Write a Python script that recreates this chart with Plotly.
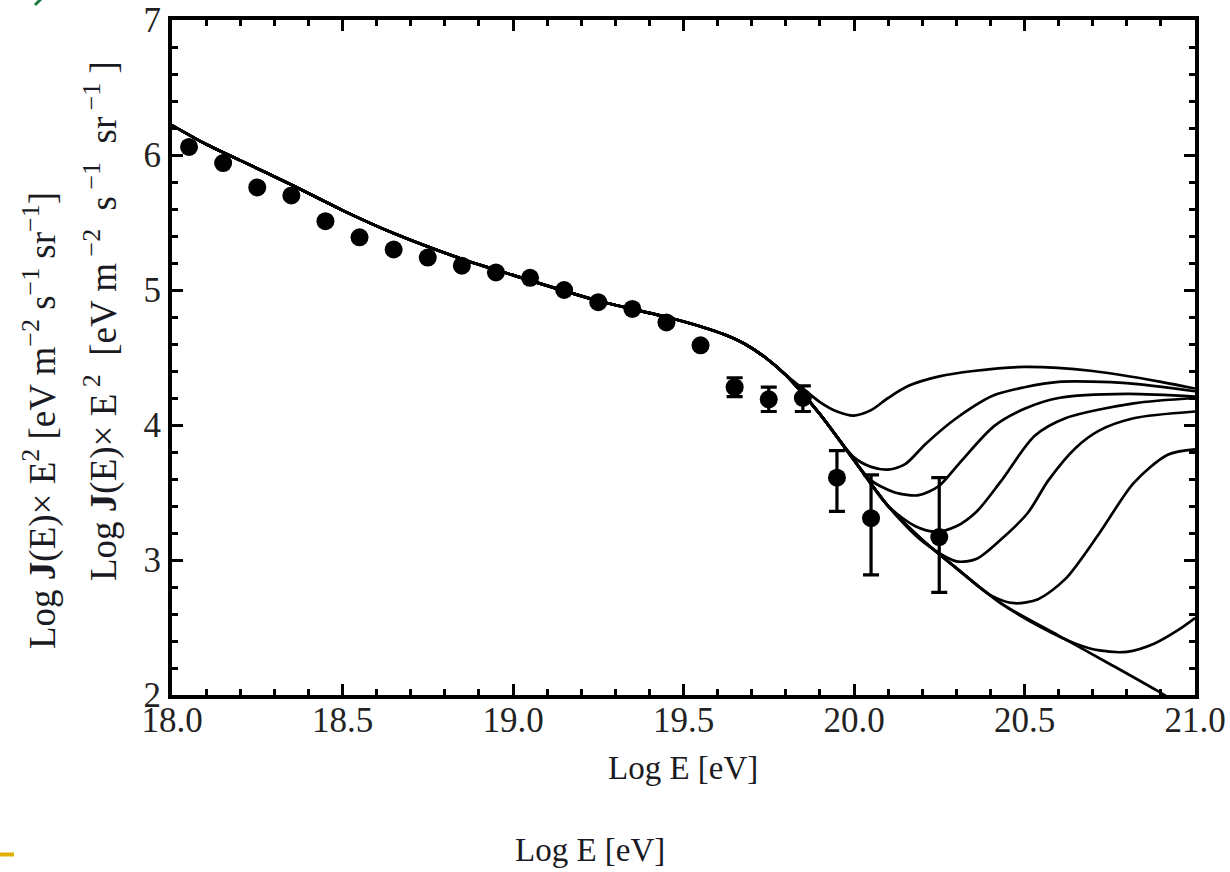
import plotly.graph_objects as go

# ---- data ----
obs_x = [18.05, 18.15, 18.25, 18.35, 18.45, 18.55, 18.65, 18.75, 18.85, 18.95,
         19.05, 19.15, 19.25, 19.35, 19.45, 19.55, 19.65, 19.75, 19.85, 19.95,
         20.05, 20.25]
obs_y = [6.06, 5.94, 5.76, 5.70, 5.51, 5.39, 5.30, 5.24, 5.18, 5.13,
         5.09, 5.00, 4.91, 4.86, 4.76, 4.59, 4.28, 4.19, 4.20, 3.61,
         3.31, 3.17]
err_up = [0, 0, 0, 0, 0, 0, 0, 0, 0, 0,
          0, 0, 0, 0, 0, 0, 0.07, 0.09, 0.09, 0.20,
          0.32, 0.44]
err_dn = [0, 0, 0, 0, 0, 0, 0, 0, 0, 0,
          0, 0, 0, 0, 0, 0, 0.07, 0.09, 0.10, 0.25,
          0.42, 0.41]

# common trunk of all model curves
trunk_x = [18.0, 18.1, 18.2, 18.35, 18.5, 18.65, 18.85, 19.0, 19.25, 19.45,
           19.55, 19.62, 19.68, 19.74, 19.8]
trunk_y = [6.22, 6.08, 5.96, 5.78, 5.59, 5.42, 5.23, 5.11, 4.92, 4.80,
           4.73, 4.67, 4.60, 4.50, 4.37]

# branches of each model curve after the trunk
a_x = [19.85, 19.9, 19.95, 20.0, 20.05, 20.1, 20.16, 20.25, 20.35, 20.5, 20.7, 20.9, 21.0]
a_y = [4.27, 4.17, 4.10, 4.07, 4.11, 4.20, 4.29, 4.36, 4.40, 4.43, 4.40, 4.32, 4.27]

b_x = [19.9, 20.0, 20.05, 20.1, 20.15, 20.21, 20.3, 20.41, 20.5, 20.6, 20.8, 21.0]
b_y = [4.08, 3.76, 3.69, 3.67, 3.71, 3.86, 4.05, 4.22, 4.28, 4.32, 4.31, 4.25]

c_x = [19.9, 20.0, 20.05, 20.12, 20.19, 20.25, 20.31, 20.41, 20.5, 20.6, 20.8, 21.0]
c_y = [4.08, 3.74, 3.59, 3.50, 3.48, 3.55, 3.72, 3.99, 4.12, 4.20, 4.23, 4.21]

d_x = [19.9, 20.0, 20.1, 20.18, 20.24, 20.3, 20.36, 20.43, 20.53, 20.62, 20.82, 21.0]
d_y = [4.08, 3.74, 3.40, 3.25, 3.21, 3.25, 3.36, 3.58, 3.92, 4.05, 4.16, 4.20]

e_x = [19.9, 20.0, 20.1, 20.2, 20.3, 20.36, 20.43, 20.51, 20.57, 20.65, 20.72, 20.82, 21.0]
e_y = [4.08, 3.74, 3.40, 3.14, 2.99, 3.01, 3.15, 3.35, 3.59, 3.83, 3.96, 4.05, 4.10]

f_x = [19.9, 20.0, 20.1, 20.2, 20.3, 20.4, 20.47, 20.54, 20.62, 20.72, 20.82, 20.92, 21.0]
f_y = [4.08, 3.74, 3.40, 3.15, 2.94, 2.74, 2.68, 2.71, 2.86, 3.20, 3.57, 3.78, 3.82]

g_x = [19.9, 20.0, 20.1, 20.2, 20.3, 20.43, 20.55, 20.65, 20.72, 20.8, 20.88, 20.95, 21.0]
g_y = [4.08, 3.74, 3.40, 3.15, 2.94, 2.68, 2.50, 2.38, 2.33, 2.32, 2.38, 2.48, 2.57]

h_x = [19.9, 20.0, 20.1, 20.2, 20.3, 20.43, 20.6, 20.75, 20.89, 21.0]
h_y = [4.08, 3.74, 3.40, 3.15, 2.94, 2.68, 2.44, 2.23, 2.03, 1.86]

branches = [(a_x, a_y), (b_x, b_y), (c_x, c_y), (d_x, d_y),
            (e_x, e_y), (f_x, f_y), (g_x, g_y), (h_x, h_y)]

x_ticks = [18.0, 18.5, 19.0, 19.5, 20.0, 20.5, 21.0]
x_tick_labels = ["18.0", "18.5", "19.0", "19.5", "20.0", "20.5", "21.0"]
y_ticks = [2, 3, 4, 5, 6, 7]
y_tick_labels = ["2", "3", "4", "5", "6", "7"]

# ---- figure ----
FONT = "Liberation Serif"
fig = go.Figure()

for bx, by in branches:
    fig.add_trace(go.Scatter(
        x=trunk_x + bx, y=trunk_y + by, mode="lines",
        line=dict(color="black", width=2.7, shape="spline", smoothing=0.8),
        showlegend=False, hoverinfo="skip"))

fig.add_trace(go.Scatter(
    x=obs_x, y=obs_y, mode="markers",
    marker=dict(color="black", size=18, symbol="circle"),
    error_y=dict(type="data", symmetric=False, array=err_up, arrayminus=err_dn,
                 color="black", thickness=3.2, width=8),
    showlegend=False))

axis_common = dict(
    showgrid=False, zeroline=False, showline=True, linecolor="black", linewidth=4,
    mirror="ticks", ticks="inside", tickcolor="black", tickwidth=3, automargin=False,
    ticklabeloverflow="allow",
    tickfont=dict(family=FONT, size=35, color="#222"),
)

fig.update_xaxes(range=[18.0, 21.0], tickvals=x_ticks, ticktext=x_tick_labels,
                 ticklen=11, ticklabelstandoff=-9,
                 minor=dict(dtick=0.1, ticks="inside", ticklen=6,
                            tickwidth=3, tickcolor="black"),
                 **axis_common)
fig.update_yaxes(range=[2.0, 7.0], tickvals=y_ticks, ticktext=y_tick_labels,
                 ticklen=11,
                 minor=dict(dtick=0.2, ticks="inside", ticklen=6,
                            tickwidth=3, tickcolor="black"),
                 **axis_common)

W, H = 1230, 872
L, R, T, B = 172, 35, 20, 177
pw, ph = W - L - R, H - T - B


def px(xs):
    return (xs - L) / pw


def py(ys):
    return (H - B - ys) / ph


NB = "\u00a0"
ytitle1 = "Log <b>J</b>(E)× E<sup>2</sup> [eV m<sup>−2</sup> s<sup>−1</sup> sr<sup>−1</sup>]"
ytitle2 = ("Log <b>J</b>(E)× E<sup>" + NB + "2</sup>" + NB + NB + "[eV m<sup>" + NB + "−2</sup>" + NB + NB +
           "s<sup>" + NB + "−1</sup>" + NB + NB + "sr<sup>" + NB + "−1</sup>" + NB + "]")
fig.add_annotation(text=ytitle1, xref="paper", yref="paper", x=px(40), y=py(421),
                   textangle=-90, showarrow=False, xanchor="center", yanchor="middle",
                   font=dict(family=FONT, size=37, color="#1a1a22"))
fig.add_annotation(text=ytitle2, xref="paper", yref="paper", x=px(101), y=py(321),
                   textangle=-90, showarrow=False, xanchor="center", yanchor="middle",
                   font=dict(family=FONT, size=37, color="#1a1a22"))
fig.add_annotation(text="Log E [eV]", xref="paper", yref="paper", x=px(683), y=py(768),
                   showarrow=False, xanchor="center", yanchor="middle",
                   font=dict(family=FONT, size=33, color="#1a1a22"))
fig.add_annotation(text="Log E [eV]", xref="paper", yref="paper", x=px(590), y=py(850),
                   showarrow=False, xanchor="center", yanchor="middle",
                   font=dict(family=FONT, size=33, color="#1a1a22"))

# slide decorations
fig.add_shape(type="line", xref="paper", yref="paper", x0=px(35), y0=py(5), x1=px(41), y1=py(-1),
              line=dict(color="#1f7a3c", width=3))
fig.add_shape(type="line", xref="paper", yref="paper", x0=px(0), y0=py(854.5), x1=px(14), y1=py(854.5),
              line=dict(color="#e0ae00", width=4))

fig.update_layout(
    width=W, height=H, margin=dict(l=L, r=R, t=T, b=B),
    paper_bgcolor="white", plot_bgcolor="white",
)

# remove the default page margin so the figure sits at the window's top-left corner
fig.write_html("out.html", config={"displayModeBar": False},
               post_script="document.body.style.margin='0px';")
